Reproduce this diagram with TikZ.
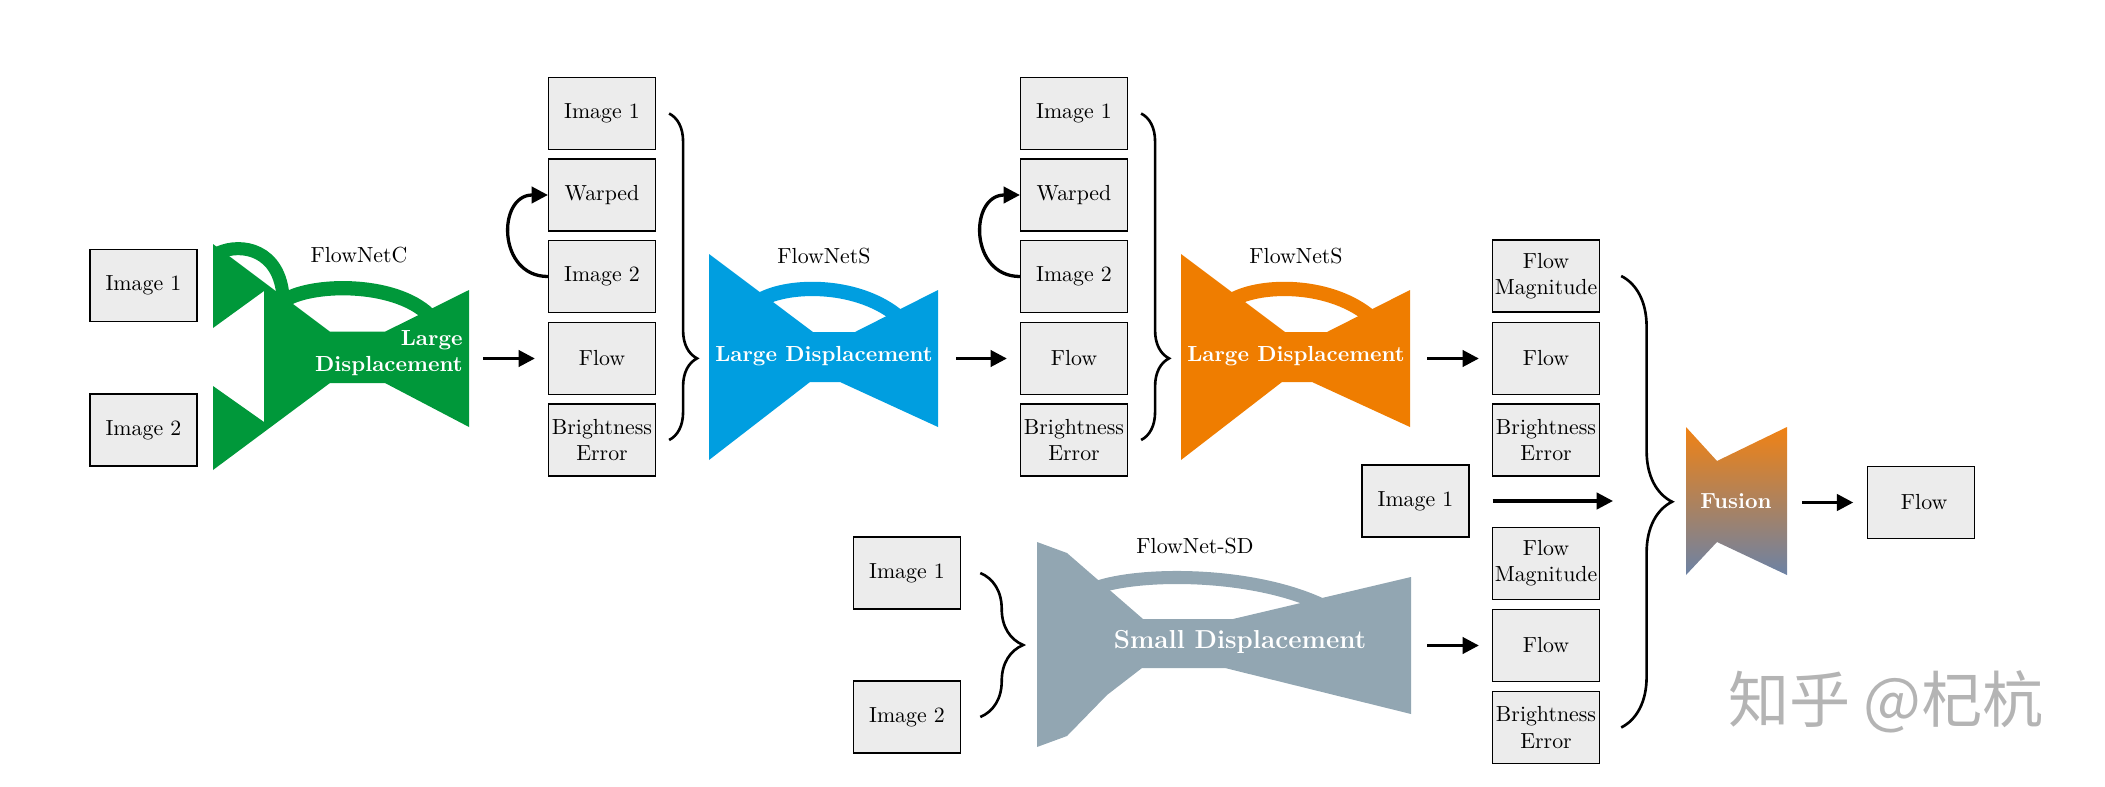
\documentclass[tikz,border=0pt]{standalone}
\usepackage{fontspec}
\newfontfamily\cjkfont{Noto Sans CJK SC}
\usetikzlibrary{arrows.meta,decorations.pathreplacing}

\definecolor{netgreen}{RGB}{0,152,58}
\definecolor{netblue}{RGB}{0,158,224}
\definecolor{netorange}{RGB}{239,125,0}
\definecolor{netgray}{RGB}{146,166,178}
\definecolor{boxfill}{RGB}{236,236,236}
\definecolor{fusetop}{RGB}{240,130,20}
\definecolor{fusebot}{RGB}{108,130,165}
\definecolor{markgray}{RGB}{180,180,180}

\begin{document}
\begin{tikzpicture}[x=1.61cm,y=-1.61cm,>={Triangle[length=7.5pt,width=7.5pt]},
  box/.style={draw,line width=0.6pt,fill=boxfill,minimum width=1.72cm,minimum height=1.16cm,inner sep=0pt,align=center},
  conn/.style={->,line width=1.5pt},
  brc/.style n args={2}{decorate,decoration={brace,amplitude=#1,aspect=#2},line width=1.2pt},
  nettext/.style={white,font=\bfseries,inner sep=0pt,align=center}]
\useasboundingbox (0,0) rectangle (21.05,7.87);

% FlowNetC
\node[box] (i1) at (1.435,2.855) {Image 1};
\node[box] (i2) at (1.435,4.30) {Image 2};
\fill[netgreen] (2.13,2.44) -- (3.30,3.317) -- (3.85,3.317) -- (4.69,2.90) -- (4.69,4.27) -- (3.85,3.83)
  -- (3.30,3.83) -- (2.13,4.70) -- (2.13,3.86) -- (2.64,4.22) -- (2.64,2.91) -- (2.13,3.28) -- cycle;
\draw[netgreen,line width=0.21cm] (2.18,2.53) .. controls (2.42,2.42) and (2.80,2.50) .. (2.83,2.97);
\draw[netgreen,line width=0.23cm] (2.85,3.00) .. controls (3.15,2.82) and (4.00,2.82) .. (4.32,3.18);
\node (ctitle) at (3.59,2.555) {FlowNetC};
\node[nettext,align=right,anchor=east] (ctext) at (4.63,3.53) {Large\\Displacement};
\coordinate (gout) at (4.83,3.585);

% first warping stage
\node[box] (a1) at (6.02,1.135) {Image 1};
\node[box] (b1) at (6.02,1.95) {Warped};
\node[box] (c1) at (6.02,2.765) {Image 2};
\node[box] (d1) at (6.02,3.585) {Flow};
\node[box] (e1) at (6.02,4.40) {Brightness\\Error};
\draw[conn,shorten >=0.21cm] (gout) -- (d1.west);
\draw[conn] (c1.west) to[out=180,in=180,looseness=1.6] (b1.west);
\draw[brc={12.8pt}{0.75}] ([xshift=0.21cm]a1.east) -- ([xshift=0.21cm]e1.east);

% FlowNetS (1)
\fill[netblue] (7.09,2.54) -- (8.13,3.32) -- (8.55,3.32) -- (9.38,2.90) -- (9.38,4.27) -- (8.40,3.82)
  -- (8.10,3.82) -- (7.09,4.60) -- cycle;
\draw[netblue,line width=0.23cm] (7.60,3.00) .. controls (7.90,2.83) and (8.60,2.83) .. (9.00,3.18);
\node (stitle1) at (8.24,2.56) {FlowNetS};
\node[nettext] (stext1) at (8.24,3.565) {Large Displacement};
\coordinate (bout) at (9.56,3.585);

% second warping stage
\node[box] (a2) at (10.74,1.135) {Image 1};
\node[box] (b2) at (10.74,1.95) {Warped};
\node[box] (c2) at (10.74,2.765) {Image 2};
\node[box] (d2) at (10.74,3.585) {Flow};
\node[box] (e2) at (10.74,4.40) {Brightness\\Error};
\draw[conn,shorten >=0.21cm] (bout) -- (d2.west);
\draw[conn] (c2.west) to[out=180,in=180,looseness=1.6] (b2.west);
\draw[brc={12.8pt}{0.75}] ([xshift=0.21cm]a2.east) -- ([xshift=0.21cm]e2.east);

% FlowNetS (2)
\fill[netorange] (11.81,2.54) -- (12.85,3.32) -- (13.27,3.32) -- (14.10,2.90) -- (14.10,4.27) -- (13.12,3.82)
  -- (12.82,3.82) -- (11.81,4.60) -- cycle;
\draw[netorange,line width=0.23cm] (12.32,3.00) .. controls (12.62,2.83) and (13.32,2.83) .. (13.72,3.18);
\node (stitle2) at (12.96,2.56) {FlowNetS};
\node[nettext] (stext2) at (12.96,3.565) {Large Displacement};
\coordinate (oout) at (14.27,3.585);

\node[box] (m1) at (15.46,2.76) {Flow\\Magnitude};
\node[box] (fl1) at (15.46,3.585) {Flow};
\node[box] (be1) at (15.46,4.40) {Brightness\\Error};
\draw[conn,shorten >=0.21cm] (oout) -- (fl1.west);

% FlowNet-SD
\node[box] (s1) at (9.07,5.73) {Image 1};
\node[box] (s2) at (9.07,7.17) {Image 2};
\draw[brc={19.6pt}{0.5}] ([xshift=0.31cm]s1.east) -- ([xshift=0.31cm]s2.east);
\fill[netgray] (10.37,5.42) -- (10.67,5.53) -- (11.43,6.19) -- (12.33,6.19) -- (14.11,5.77) -- (14.11,7.14)
  -- (12.25,6.68) -- (11.42,6.68) -- (11.07,6.95) -- (10.67,7.36) -- (10.37,7.47) -- cycle;
\draw[netgray,line width=0.21cm] (10.95,5.88) .. controls (11.40,5.72) and (12.50,5.72) .. (13.20,6.04);
\node (sdtitle) at (11.95,5.465) {FlowNet-SD};
\node[nettext,font=\bfseries\fontsize{11.9}{14}\selectfont] (sdtext) at (12.40,6.42) {Small Displacement};
\coordinate (sout) at (14.27,6.455);

\node[box] (m2) at (15.46,5.635) {Flow\\Magnitude};
\node[box] (fl2) at (15.46,6.455) {Flow};
\node[box] (be2) at (15.46,7.275) {Brightness\\Error};
\draw[conn,shorten >=0.21cm] (sout) -- (fl2.west);

% fusion
\node[box] (im) at (14.155,5.01) {Image 1};
\coordinate (imend) at (16.13,5.01);
\draw[conn,shorten <=0.37cm] (im.east) -- (imend);
\draw[brc={23.3pt}{0.5}] ([xshift=0.34cm]m1.east) -- ([xshift=0.34cm]be2.east);
\shade[top color=fusetop,bottom color=fusebot] (16.86,4.27) -- (17.17,4.61) -- (17.87,4.27) -- (17.87,5.75)
  -- (17.17,5.42) -- (16.86,5.75) -- cycle;
\node[nettext] (fus) at (17.36,5.01) {Fusion};
\coordinate (fout) at (18.02,5.025);
\node[box] (out) at (19.21,5.025) {\hspace{0.1cm}Flow};
\draw[conn,shorten >=0.22cm] (fout) -- (out.west);

\node[markgray,font=\cjkfont\fontsize{28}{32}\selectfont] (mark) at (18.86,7.02) {知乎 @杞杭};
\end{tikzpicture}
\end{document}
